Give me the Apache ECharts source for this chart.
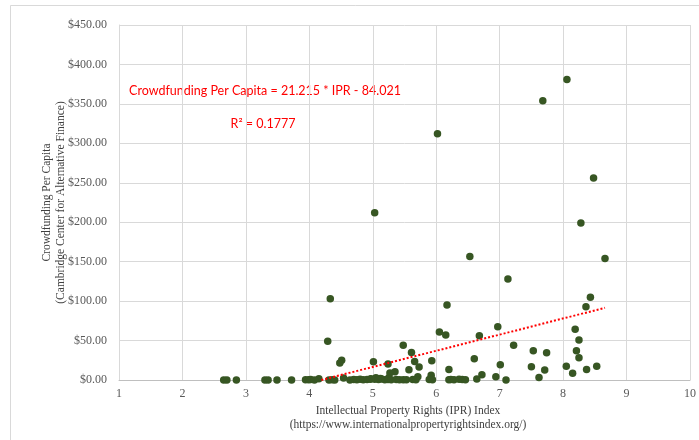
<!DOCTYPE html>
<html><head><meta charset="utf-8">
<script src="https://cdn.jsdelivr.net/npm/echarts@6/dist/echarts.min.js"></script>
<style>html,body{margin:0;padding:0;background:#fff}#c{width:699px;height:440px}</style>
</head><body><div id="c"></div>
<script>
// IPR index (x) and crowdfunding per capita in $ (y)
const iprIndex = [
  8.06, 7.68, 6.02, 8.48, 5.03, 8.28, 6.53, 8.66, 7.13, 8.43,
  4.33, 6.17, 8.36, 6.97, 8.19, 6.05, 6.15, 6.68, 8.25, 4.29,
  5.48, 7.22, 7.53, 8.21, 5.61, 7.74, 8.25, 6.60, 4.51, 5.93,
  5.66, 5.01, 4.48, 5.24, 7.01, 8.05, 8.53, 7.50, 5.73, 6.20,
  8.37, 5.57, 7.71, 5.35, 5.27, 8.15, 5.92, 6.72, 5.71, 6.94,
  7.62, 6.64, 4.15, 4.54, 5.05, 5.12, 5.25, 4.97,
  2.65, 2.70, 2.85, 3.30, 3.35, 3.49, 3.72, 3.94, 3.99, 4.02,
  4.08, 4.31, 4.36, 4.40, 4.64, 4.70, 4.75, 4.80, 4.85, 4.91,
  4.96, 5.03, 5.09, 5.14, 5.19, 5.24, 5.29, 5.37, 5.42, 5.48,
  5.53, 5.63, 5.68, 5.89, 5.94, 6.20, 6.23, 6.28, 6.36, 6.41,
  6.46, 7.10
];
const crowdfundingPerCapita = [
  381, 354, 312, 256, 212, 199, 156.5, 154, 128, 105,
  103, 95, 93, 67.6, 64.2, 61, 57, 56.2, 50.7, 49,
  44, 44, 37.2, 37.2, 35, 34.6, 28.3, 27, 25, 24.5,
  23.6, 23, 21.5, 20.3, 19.4, 17.3, 17.3, 16.9, 16.5, 13.4,
  13.4, 13, 12.7, 10.5, 9, 8.4, 6, 6.7, 4, 4.2,
  3.3, 1.3, 1.6, 2.5, 3, 2, 2.5, 1.5,
  0, 0, 0, 0, 0, 0, 0, 0.3, 0.2, 0.5,
  0, 0, 0.3, 0, 0, 0.5, 0.2, 0.8, 0.3, 0.5,
  1, 0.8, 0.5, 1.2, 0.4, 0.6, 0.3, 0.5, 0.2, 0.4,
  0.3, 0.5, 0.2, 0.6, 0.3, 0.2, 0.5, 0.3, 0.8, 0.5,
  0.3, 0
];
// trendline endpoints as drawn in the reference
const trendX = [4.19, 8.66];
const trendY = [0, 91.5];
const xTicks = [1, 10, 1];   // min, max, interval
const yTicks = [0, 450, 50];
const equationText = 'Crowdfunding Per Capita = 21.215 * IPR - 84.021';
const r2Text = 'R² = 0.1777';
const xTitle = ['Intellectual Property Rights (IPR) Index', '(https://www.internationalpropertyrightsindex.org/)'];
const yTitle = ['Crowdfunding Per Capita', '(Cambridge Center for Alternative Finance)'];

const chart = echarts.init(document.getElementById('c'), null, {renderer: 'canvas'});
const points = iprIndex.map((x, i) => [x, crowdfundingPerCapita[i]]);
const trend = trendX.map((x, i) => [x, trendY[i]]);
const serif = '"Liberation Serif", "Times New Roman", serif';
const gridColor = '#d9d9d9';

chart.setOption({
  animation: false,
  backgroundColor: '#fff',
  grid: {left: 119, right: 2, top: 25, bottom: 60, containLabel: false},
  xAxis: {
    type: 'value', min: xTicks[0], max: xTicks[1], interval: xTicks[2],
    axisLine: {show: true, lineStyle: {color: '#bfbfbf', width: 1}},
    axisTick: {show: false},
    splitLine: {show: true, lineStyle: {color: gridColor, width: 1}},
    axisLabel: {color: '#595959', fontFamily: serif, fontSize: 12, margin: 8}
  },
  yAxis: {
    type: 'value', min: yTicks[0], max: yTicks[1], interval: yTicks[2],
    axisLine: {show: true, lineStyle: {color: gridColor, width: 1}},
    axisTick: {show: false},
    splitLine: {show: true, lineStyle: {color: gridColor, width: 1}},
    axisLabel: {color: '#595959', fontFamily: serif, fontSize: 12, margin: 12,
      formatter: v => '$' + v.toFixed(2)}
  },
  series: [
    {
      type: 'scatter', data: points, symbolSize: 7.5,
      itemStyle: {color: '#375623', opacity: 1}, z: 2
    },
    {
      type: 'line', data: trend, symbol: 'none', z: 3,
      lineStyle: {color: '#ff0000', width: 2, type: [2, 2]}
    }
  ],
  graphic: [
    {type: 'rect', shape: {x: 10.5, y: 5.5, width: 720, height: 460}, style: {fill: 'none', stroke: gridColor, lineWidth: 1}, z: -10, silent: true},
    {type: 'text', x: 265, y: 91, style: {text: equationText, fill: '#ff0000', font: '12.5px Lato', align: 'center', verticalAlign: 'middle'}},
    {type: 'text', x: 263, y: 124, style: {text: r2Text, fill: '#ff0000', font: '12.5px Lato', align: 'center', verticalAlign: 'middle'}},
    {type: 'text', x: 408, y: 418, style: {text: xTitle.join('\n'), fill: '#404040', font: '11.5px ' + serif, align: 'center', verticalAlign: 'middle', lineHeight: 14}},
    {type: 'text', x: 54, y: 202.5, rotation: Math.PI / 2, style: {text: yTitle.join('\n'), fill: '#404040', font: '11.5px ' + serif, align: 'center', verticalAlign: 'middle', lineHeight: 13.5}}
  ]
});
</script>
</body></html>
